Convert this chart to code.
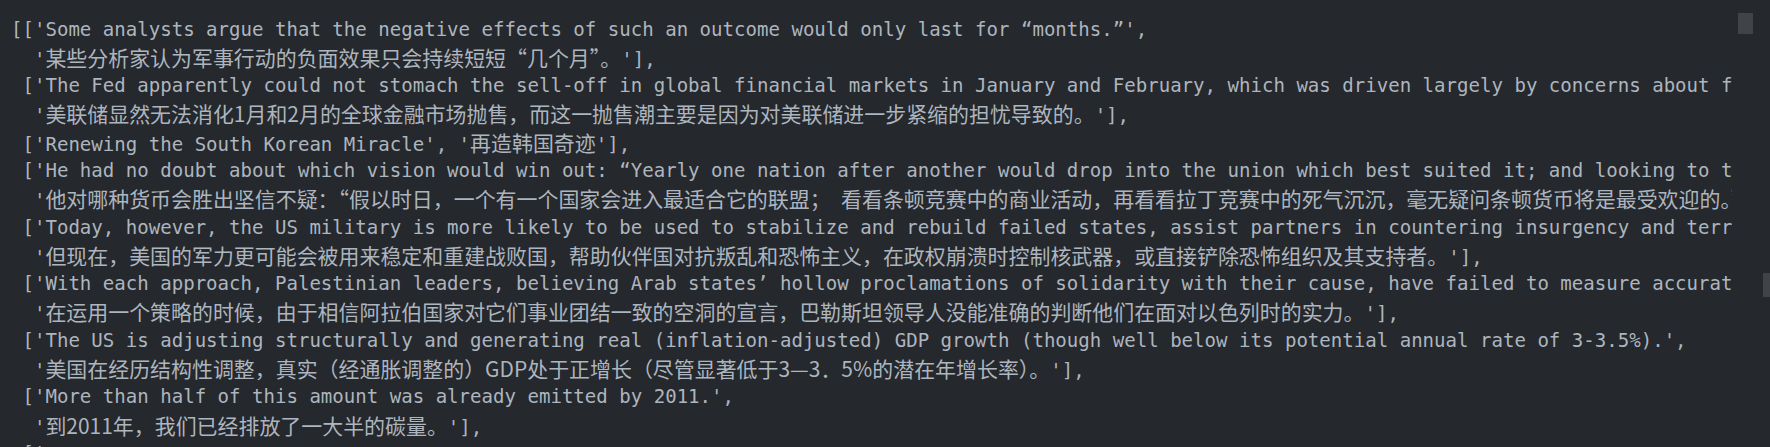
<!DOCTYPE html>
<html>
<head>
<meta charset="utf-8">
<script src="https://cdn.jsdelivr.net/npm/chart.js"></script>
<style>
  html, body { margin: 0; width: 1770px; height: 447px; overflow: hidden; background: #25282c; }
  #out {
    position: absolute; left: 11px; top: 14.5px; width: 1721px; overflow: hidden;
    font-family: "DejaVu Sans Mono", monospace; font-size: 19.07px; color: #adb5bf;
    white-space: pre;
  }
  .ln { height: 28.3px; line-height: 28.3px; }
  /* chinese strings: CJK font a little larger than the mono text, like the reference */
  .zh { font-family: "Noto Sans CJK SC", "DejaVu Sans Mono", monospace; font-size: 20.95px; line-height: 28.3px; }
  .thumb { position: absolute; background: #404347; }
</style>
</head>
<body>
<div id="out"></div>
<div class="thumb" style="left:1738px;top:13px;width:15px;height:21px"></div>
<div class="thumb" style="left:1763px;top:273px;width:7px;height:24px"></div>
<script>
// sentence pairs as printed in the notebook output (tails past the right edge are cut off there)
const englishSentences = [
  'Some analysts argue that the negative effects of such an outcome would only last for “months.”',
  'The Fed apparently could not stomach the sell-off in global financial markets in January and February, which was driven largely by concerns about further tightening by the Fed.',
  'Renewing the South Korean Miracle',
  'He had no doubt about which vision would win out: “Yearly one nation after another would drop into the union which best suited it; and looking to the commercial activity of the Teutonic race, there can be no doubt which currency would be most popular.”',
  'Today, however, the US military is more likely to be used to stabilize and rebuild failed states, assist partners in countering insurgency and terrorism, secure nuclear weapons, or eliminate terrorist groups.',
  'With each approach, Palestinian leaders, believing Arab states’ hollow proclamations of solidarity with their cause, have failed to measure accurately their power vis-à-vis Israel.',
  'The US is adjusting structurally and generating real (inflation-adjusted) GDP growth (though well below its potential annual rate of 3-3.5%).',
  'More than half of this amount was already emitted by 2011.'
];
const chineseSentences = [
  '某些分析家认为军事行动的负面效果只会持续短短“几个月”。',
  '美联储显然无法消化1月和2月的全球金融市场抛售，而这一抛售潮主要是因为对美联储进一步紧缩的担忧导致的。',
  '再造韩国奇迹',
  '他对哪种货币会胜出坚信不疑：“假以时日，一个有一个国家会进入最适合它的联盟；　看看条顿竞赛中的商业活动，再看看拉丁竞赛中的死气沉沉，毫无疑问条顿货币将是最受欢迎的。”',
  '但现在，美国的军力更可能会被用来稳定和重建战败国，帮助伙伴国对抗叛乱和恐怖主义，在政权崩溃时控制核武器，或直接铲除恐怖组织及其支持者。',
  '在运用一个策略的时候，由于相信阿拉伯国家对它们事业团结一致的空洞的宣言，巴勒斯坦领导人没能准确的判断他们在面对以色列时的实力。',
  '美国在经历结构性调整，真实（经通胀调整的）GDP处于正增长（尽管显著低于3—3．5%的潜在年增长率）。',
  '到2011年，我们已经排放了一大半的碳量。'
];

const out = document.getElementById('out');

function addLine(parts) {
  const div = document.createElement('div');
  div.className = 'ln';
  parts.forEach(function (p) {
    const span = document.createElement('span');
    if (p.zh) span.className = 'zh';
    span.textContent = p.text;
    div.appendChild(span);
  });
  out.appendChild(div);
}

// pprint style: pair on one line when short enough, otherwise split
englishSentences.forEach(function (en, i) {
  const zh = chineseSentences[i];
  const open = i === 0 ? "[['" : " ['";
  if (en.length + zh.length + 8 <= 80) {
    addLine([{ text: open + en + "', '" }, { text: zh, zh: true }, { text: "']," }]);
  } else {
    addLine([{ text: open + en + "'," }]);
    addLine([{ text: "  '" }, { text: zh, zh: true }, { text: "']," }]);
  }
});
// next entry, only its top edge shows at the bottom of the frame
addLine([{ text: " ['" }]);
</script>
</body>
</html>
